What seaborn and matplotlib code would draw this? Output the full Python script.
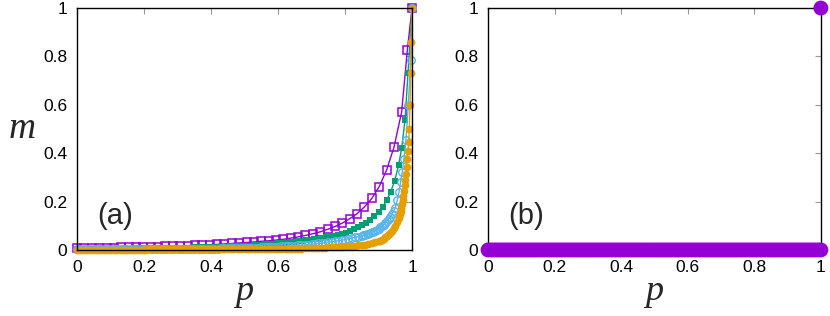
"""Two panels: m against p for four series (a) and one series (b)."""

import matplotlib.pyplot as plt
import seaborn as sns

# panel (a), purple open squares
p_purple = [0, 0.022, 0.044, 0.066, 0.088, 0.11, 0.132, 0.154, 0.176, 0.198,
            0.22, 0.242, 0.264, 0.286, 0.308, 0.33, 0.352, 0.374, 0.396, 0.418,
            0.44, 0.462, 0.484, 0.506, 0.528, 0.55, 0.572, 0.594, 0.616, 0.638,
            0.66, 0.682, 0.704, 0.726, 0.748, 0.77, 0.792, 0.814, 0.836, 0.858,
            0.88, 0.902, 0.924, 0.946, 0.969, 0.986, 1.0]
m_purple = [0.008, 0.008, 0.009, 0.009, 0.010, 0.010, 0.011, 0.011, 0.012, 0.012,
            0.013, 0.014, 0.015, 0.016, 0.017, 0.018, 0.019, 0.020, 0.022, 0.023,
            0.025, 0.027, 0.029, 0.031, 0.033, 0.036, 0.038, 0.041, 0.044, 0.049,
            0.054, 0.060, 0.067, 0.075, 0.085, 0.097, 0.111, 0.129, 0.150, 0.178,
            0.213, 0.262, 0.330, 0.424, 0.570, 0.826, 1.0]

# panel (a), green filled squares
p_green = [0, 0.012, 0.024, 0.036, 0.048, 0.06, 0.072, 0.084, 0.096, 0.108,
           0.12, 0.132, 0.144, 0.156, 0.168, 0.18, 0.192, 0.204, 0.216, 0.228,
           0.24, 0.252, 0.264, 0.276, 0.288, 0.3, 0.312, 0.324, 0.336, 0.348,
           0.36, 0.372, 0.384, 0.396, 0.408, 0.42, 0.432, 0.444, 0.456, 0.468,
           0.48, 0.492, 0.504, 0.516, 0.528, 0.54, 0.552, 0.564, 0.576, 0.588,
           0.6, 0.612, 0.624, 0.636, 0.648, 0.66, 0.672, 0.684, 0.696, 0.708,
           0.72, 0.732, 0.744, 0.756, 0.768, 0.78, 0.792, 0.804, 0.816, 0.828,
           0.84, 0.852, 0.864, 0.876, 0.888, 0.9, 0.912, 0.924, 0.936, 0.948,
           0.96, 0.969, 0.979, 0.988, 1.0]
m_green = [0.004, 0.004, 0.004, 0.004, 0.005, 0.005, 0.005, 0.005, 0.005, 0.005,
           0.006, 0.006, 0.006, 0.006, 0.006, 0.007, 0.007, 0.007, 0.007, 0.008,
           0.008, 0.008, 0.008, 0.009, 0.009, 0.009, 0.010, 0.010, 0.010, 0.011,
           0.011, 0.011, 0.012, 0.012, 0.012, 0.013, 0.013, 0.014, 0.015, 0.015,
           0.016, 0.017, 0.017, 0.018, 0.019, 0.020, 0.021, 0.023, 0.024, 0.026,
           0.027, 0.029, 0.030, 0.032, 0.034, 0.036, 0.038, 0.040, 0.042, 0.045,
           0.047, 0.050, 0.053, 0.056, 0.059, 0.063, 0.067, 0.072, 0.078, 0.085,
           0.093, 0.102, 0.113, 0.125, 0.139, 0.158, 0.178, 0.205, 0.239, 0.285,
           0.350, 0.420, 0.537, 0.730, 1.0]

# panel (a), light blue open circles
p_blue = [0, 0.01, 0.02, 0.03, 0.04, 0.05, 0.06, 0.07, 0.08, 0.09,
          0.1, 0.11, 0.12, 0.13, 0.14, 0.15, 0.16, 0.17, 0.18, 0.19,
          0.2, 0.21, 0.22, 0.23, 0.24, 0.25, 0.26, 0.27, 0.28, 0.29,
          0.3, 0.31, 0.32, 0.33, 0.34, 0.35, 0.36, 0.37, 0.38, 0.39,
          0.4, 0.41, 0.42, 0.43, 0.44, 0.45, 0.46, 0.47, 0.48, 0.49,
          0.5, 0.51, 0.52, 0.53, 0.54, 0.55, 0.56, 0.57, 0.58, 0.59,
          0.6, 0.61, 0.62, 0.63, 0.64, 0.65, 0.66, 0.67, 0.68, 0.69,
          0.7, 0.71, 0.72, 0.73, 0.74, 0.75, 0.76, 0.77, 0.78, 0.79,
          0.8, 0.81, 0.82, 0.83, 0.84, 0.85,
          0.855, 0.86, 0.865, 0.87, 0.875, 0.88, 0.885, 0.89, 0.895, 0.9,
          0.905, 0.91, 0.915, 0.92, 0.925, 0.93, 0.935, 0.94, 0.945, 0.95,
          0.956, 0.961, 0.966, 0.971, 0.976, 0.982, 0.989, 0.996, 1.0]
m_blue = [0.002, 0.002, 0.002, 0.002, 0.002, 0.002, 0.002, 0.002, 0.002, 0.002,
          0.002, 0.003, 0.003, 0.003, 0.003, 0.003, 0.003, 0.003, 0.003, 0.003,
          0.003, 0.003, 0.003, 0.004, 0.004, 0.004, 0.004, 0.004, 0.004, 0.004,
          0.004, 0.004, 0.004, 0.005, 0.005, 0.005, 0.005, 0.005, 0.006, 0.006,
          0.006, 0.006, 0.006, 0.007, 0.007, 0.007, 0.007, 0.007, 0.008, 0.008,
          0.008, 0.009, 0.009, 0.010, 0.010, 0.011, 0.011, 0.012, 0.012, 0.013,
          0.014, 0.015, 0.015, 0.016, 0.017, 0.018, 0.019, 0.020, 0.021, 0.022,
          0.024, 0.025, 0.027, 0.028, 0.030, 0.032, 0.034, 0.036, 0.038, 0.040,
          0.043, 0.046, 0.049, 0.052, 0.055, 0.058,
          0.060, 0.062, 0.065, 0.067, 0.070, 0.073, 0.076, 0.080, 0.084, 0.088,
          0.093, 0.099, 0.105, 0.112, 0.120, 0.128, 0.138, 0.149, 0.161, 0.175,
          0.205, 0.240, 0.280, 0.324, 0.375, 0.455, 0.600, 0.785, 1.0]

# panel (a), orange filled circles
p_orange = [0, 0.01, 0.02, 0.03, 0.04, 0.05, 0.06, 0.07, 0.08, 0.09,
            0.1, 0.11, 0.12, 0.13, 0.14, 0.15, 0.16, 0.17, 0.18, 0.19,
            0.2, 0.21, 0.22, 0.23, 0.24, 0.25, 0.26, 0.27, 0.28, 0.29,
            0.3, 0.31, 0.32, 0.33, 0.34, 0.35, 0.36, 0.37, 0.38, 0.39,
            0.4, 0.41, 0.42, 0.43, 0.44, 0.45, 0.46, 0.47, 0.48, 0.49,
            0.5, 0.51, 0.52, 0.53, 0.54, 0.55, 0.56, 0.57, 0.58, 0.59,
            0.6, 0.61, 0.62, 0.63, 0.64, 0.65, 0.66, 0.67, 0.68, 0.69,
            0.7, 0.71, 0.72, 0.73, 0.74, 0.75, 0.76, 0.77, 0.78, 0.79,
            0.8, 0.81, 0.82, 0.83, 0.84, 0.85, 0.86, 0.87, 0.88, 0.89, 0.9,
            0.905, 0.91, 0.915, 0.92, 0.925, 0.93, 0.935, 0.94, 0.945, 0.95,
            0.955, 0.96,
            0.962, 0.964, 0.966, 0.968, 0.97, 0.972, 0.974, 0.976, 0.978, 0.98,
            0.982, 0.984, 0.986, 0.988, 0.99, 0.992, 0.994, 0.996, 0.998, 1.0]
m_orange = [0.001, 0.001, 0.001, 0.001, 0.001, 0.001, 0.001, 0.001, 0.001, 0.001,
            0.001, 0.001, 0.001, 0.001, 0.001, 0.001, 0.001, 0.001, 0.001, 0.001,
            0.001, 0.002, 0.002, 0.002, 0.002, 0.002, 0.002, 0.002, 0.002, 0.002,
            0.002, 0.002, 0.002, 0.002, 0.002, 0.002, 0.002, 0.002, 0.002, 0.002,
            0.002, 0.002, 0.002, 0.002, 0.002, 0.002, 0.003, 0.003, 0.003, 0.003,
            0.003, 0.003, 0.003, 0.003, 0.003, 0.003, 0.004, 0.004, 0.004, 0.004,
            0.004, 0.004, 0.004, 0.005, 0.005, 0.005, 0.006, 0.006, 0.007, 0.007,
            0.008, 0.008, 0.009, 0.009, 0.010, 0.011, 0.012, 0.012, 0.013, 0.014,
            0.015, 0.016, 0.017, 0.018, 0.019, 0.021, 0.022, 0.024, 0.027, 0.031, 0.036,
            0.039, 0.043, 0.047, 0.052, 0.058, 0.064, 0.071, 0.080, 0.090, 0.101,
            0.115, 0.131,
            0.140, 0.150, 0.162, 0.175, 0.190, 0.207, 0.225, 0.245, 0.267, 0.290,
            0.316, 0.345, 0.377, 0.410, 0.445, 0.500, 0.600, 0.730, 0.861, 1.0]

# panel (b)
p_b = [0, 0.01, 0.02, 0.03, 0.04, 0.05, 0.06, 0.07, 0.08, 0.09,
       0.1, 0.11, 0.12, 0.13, 0.14, 0.15, 0.16, 0.17, 0.18, 0.19,
       0.2, 0.21, 0.22, 0.23, 0.24, 0.25, 0.26, 0.27, 0.28, 0.29,
       0.3, 0.31, 0.32, 0.33, 0.34, 0.35, 0.36, 0.37, 0.38, 0.39,
       0.4, 0.41, 0.42, 0.43, 0.44, 0.45, 0.46, 0.47, 0.48, 0.49,
       0.5, 0.51, 0.52, 0.53, 0.54, 0.55, 0.56, 0.57, 0.58, 0.59,
       0.6, 0.61, 0.62, 0.63, 0.64, 0.65, 0.66, 0.67, 0.68, 0.69,
       0.7, 0.71, 0.72, 0.73, 0.74, 0.75, 0.76, 0.77, 0.78, 0.79,
       0.8, 0.81, 0.82, 0.83, 0.84, 0.85, 0.86, 0.87, 0.88, 0.89,
       0.9, 0.91, 0.92, 0.93, 0.94, 0.95, 0.96, 0.97, 0.98, 0.99,
       1.0, 1.0]
m_b = [0, 0, 0, 0, 0, 0, 0, 0, 0, 0,
       0, 0, 0, 0, 0, 0, 0, 0, 0, 0,
       0, 0, 0, 0, 0, 0, 0, 0, 0, 0,
       0, 0, 0, 0, 0, 0, 0, 0, 0, 0,
       0, 0, 0, 0, 0, 0, 0, 0, 0, 0,
       0, 0, 0, 0, 0, 0, 0, 0, 0, 0,
       0, 0, 0, 0, 0, 0, 0, 0, 0, 0,
       0, 0, 0, 0, 0, 0, 0, 0, 0, 0,
       0, 0, 0, 0, 0, 0, 0, 0, 0, 0,
       0, 0, 0, 0, 0, 0, 0, 0, 0, 0,
       0, 1]

tick_vals = [0, 0.2, 0.4, 0.6, 0.8, 1]
tick_labels = ["0", "0.2", "0.4", "0.6", "0.8", "1"]

PURPLE = "#9400d3"
GREEN = "#009e73"
BLUE = "#56b4e9"
ORANGE = "#e69f00"

sns.set_style("white")
plt.rcParams["font.family"] = ["Liberation Sans", "DejaVu Sans"]

fig = plt.figure(figsize=(8.3, 3.16), dpi=100)
ax_a = fig.add_axes([0.0928, 0.209, 0.4036, 0.7655])
ax_b = fig.add_axes([0.588, 0.209, 0.401, 0.7655])

#panel a, plotted in the gnuplot order so orange ends on top
sns.lineplot(x=p_purple, y=m_purple, ax=ax_a, color=PURPLE, lw=1,
             marker="s", markersize=6.2, mfc="none", mec=PURPLE, mew=1.1,
             sort=False, estimator=None, clip_on=False)
sns.lineplot(x=p_green, y=m_green, ax=ax_a, color=GREEN, lw=1,
             marker="s", markersize=4.8, mfc=GREEN, mec=GREEN, mew=0,
             sort=False, estimator=None, clip_on=False)
sns.lineplot(x=p_blue, y=m_blue, ax=ax_a, color=BLUE, lw=1,
             marker="o", markersize=5.4, mfc="none", mec=BLUE, mew=1,
             sort=False, estimator=None, clip_on=False)
sns.lineplot(x=p_orange, y=m_orange, ax=ax_a, color=ORANGE, lw=1,
             marker="o", markersize=5.6, mfc=ORANGE, mec=ORANGE, mew=0,
             sort=False, estimator=None, clip_on=False)

#panel b
sns.scatterplot(x=p_b, y=m_b, ax=ax_b, color=PURPLE, s=115,
                edgecolor="none", linewidth=0, clip_on=False, zorder=3)

for ax, tag in ((ax_a, "(a)"), (ax_b, "(b)")):
    ax.set_xlim(0, 1)
    ax.set_ylim(0, 1)
    ax.set_xticks(tick_vals, tick_labels)
    ax.set_yticks(tick_vals, tick_labels)
    ax.tick_params(direction="in", length=4, width=0.8, color="#999999",
                   top=True, right=True, labelsize=12.5, pad=7,
                   labelcolor="black")
    for sp in ax.spines.values():
        sp.set_color("black")
        sp.set_linewidth(1)
        sp.set_zorder(2.5)
    ax.text(0.06, 0.14, tag, fontsize=21, ha="left", va="center")
    ax.set_xlabel("p", fontsize=26, family="Liberation Serif",
                  style="italic", labelpad=0)

ax_a.set_ylabel("m", fontsize=27, family="Liberation Serif",
                style="italic", rotation=0, labelpad=15, va="center")
ax_b.set_ylabel(None)

fig.savefig("out.png", dpi=100)
